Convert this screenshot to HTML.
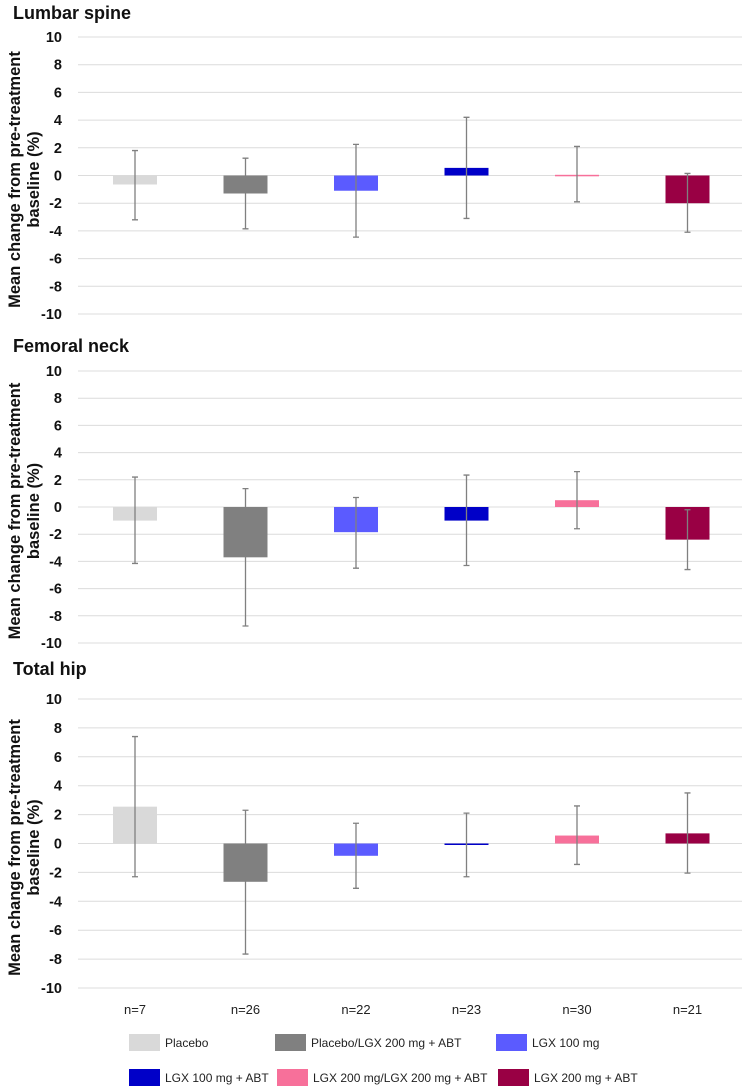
<!DOCTYPE html>
<html><head><meta charset="utf-8"><style>
html,body{margin:0;padding:0;background:#fff;}
svg{display:block;font-family:"Liberation Sans",sans-serif;}
</style></head><body>
<svg id="chart" width="750" height="1092" viewBox="0 0 750 1092"></svg>
<script>
const categories = ["Placebo","Placebo/LGX 200 mg + ABT","LGX 100 mg","LGX 100 mg + ABT","LGX 200 mg/LGX 200 mg + ABT","LGX 200 mg + ABT"];
const nLabels = ["n=7","n=26","n=22","n=23","n=30","n=21"];
const colors = ["#d9d9d9","#808080","#5b5bff","#0000c8","#f7709a","#990044"];
const yTicks = [10,8,6,4,2,0,-2,-4,-6,-8,-10];
const panelTitles = ["Lumbar spine","Femoral neck","Total hip"];
const lumbarMean = [-0.65,-1.3,-1.1,0.55,0.05,-2.0];
const lumbarHi = [1.8,1.25,2.25,4.2,2.1,0.15];
const lumbarLo = [-3.2,-3.85,-4.45,-3.1,-1.9,-4.1];
const femoralMean = [-1.0,-3.7,-1.85,-1.0,0.5,-2.4];
const femoralHi = [2.2,1.35,0.7,2.35,2.6,-0.2];
const femoralLo = [-4.15,-8.75,-4.5,-4.3,-1.6,-4.6];
const hipMean = [2.55,-2.65,-0.85,-0.05,0.55,0.7];
const hipHi = [7.4,2.3,1.4,2.1,2.6,3.5];
const hipLo = [-2.3,-7.65,-3.1,-2.3,-1.45,-2.05];

const NS="http://www.w3.org/2000/svg";
const svg=document.getElementById('chart');
function mk(tag,attrs,parent){const e=document.createElementNS(NS,tag);for(const k in attrs)e.setAttribute(k,attrs[k]);(parent||svg).appendChild(e);return e;}

const panels=[
 {top:37,bot:314,titleY:19,mean:lumbarMean,hi:lumbarHi,lo:lumbarLo},
 {top:371,bot:643,titleY:352,mean:femoralMean,hi:femoralHi,lo:femoralLo},
 {top:699,bot:988,titleY:675,mean:hipMean,hi:hipHi,lo:hipLo}
];
const xL=78,xR=742,x0=135,step=110.5,bw=44;
function xC(i){return x0+i*step;}

panels.forEach((p,pi)=>{
  const y=v=>p.top+(10-v)/20*(p.bot-p.top);
  const g=mk('g',{});
  
  
  const t=mk('text',{x:13,y:p.titleY,'font-size':18,'font-weight':'bold',fill:'#111'},g);
  t.textContent=panelTitles[pi];
  
  
  yTicks.forEach(v=>{
    const l=mk('line',{x1:xL,x2:xR,y1:y(v),y2:y(v),stroke:'#dcdcdc','stroke-width':1},g);
    
    
    const tl=mk('text',{x:62,y:y(v)+5,'font-size':14.5,'font-weight':'bold','text-anchor':'end',fill:'#111'},g);
    tl.textContent=v;
    
    
  });
  const cy=(p.top+p.bot)/2+4;
  const at=mk('text',{transform:`translate(20,${cy}) rotate(-90)`,'font-size':16.5,'font-weight':'bold','text-anchor':'middle',fill:'#111'},g);
  at.textContent='Mean change from pre-treatment';
  
  
  const at2=mk('text',{transform:`translate(39,${cy}) rotate(-90)`,'font-size':16.5,'font-weight':'bold','text-anchor':'middle',fill:'#111'},g);
  at2.textContent='baseline (%)';
  
  
  p.mean.forEach((m,i)=>{
    const yt=Math.min(y(m),y(0)),h=Math.max(Math.abs(y(m)-y(0)),1.5);
    const r=mk('rect',{x:xC(i)-bw/2,y:yt,width:bw,height:h,fill:colors[i]},g);
    
    
    const e=mk('path',{d:`M${xC(i)},${y(p.hi[i])}V${y(p.lo[i])}M${xC(i)-3},${y(p.hi[i])}h6M${xC(i)-3},${y(p.lo[i])}h6`,stroke:'#808080','stroke-width':1.3,fill:'none'},g);
    
    
  });
});
nLabels.forEach((n,i)=>{
  const t=mk('text',{x:xC(i),y:1014,'font-size':13,'text-anchor':'middle',fill:'#222'});
  t.textContent=n;
  
  
});
const legX=[[129,275,496],[129,277,498]];
const legY=[1042,1077];
categories.forEach((c,i)=>{
  const row=Math.floor(i/3),col=i%3;
  const sx=legX[row][col];
  const g=mk('g',{});
  
  
  mk('rect',{x:sx,y:legY[row]-8,width:31,height:17,fill:colors[i]},g);
  const t=mk('text',{x:sx+36,y:legY[row]+5,'font-size':12,fill:'#222'},g);
  t.textContent=c;
});
</script>
</body></html>
